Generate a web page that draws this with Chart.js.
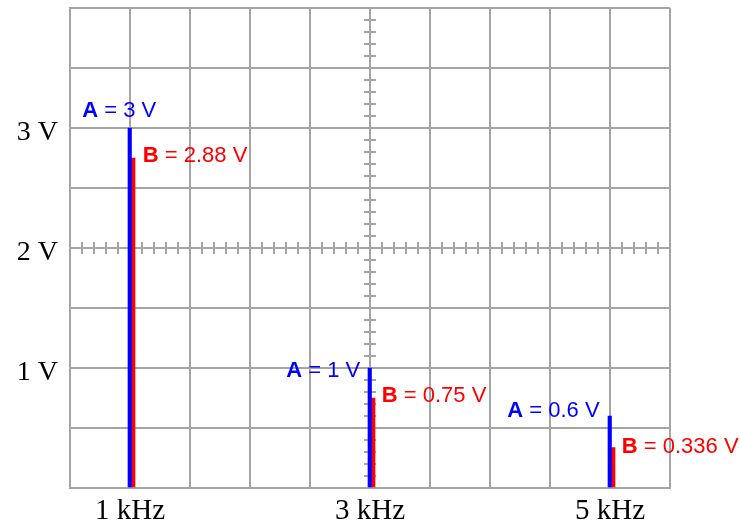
<!DOCTYPE html>
<html>
<head>
<meta charset="utf-8">
<script src="https://cdn.jsdelivr.net/npm/chart.js@4.4.0/dist/chart.umd.min.js"></script>
<style>
	html, body { margin: 0; padding: 0; background: #fff; }
	#wrap { width: 740px; height: 523px; }
</style>
</head>
<body>
<div id="wrap"><canvas id="spectrum"></canvas></div>
<script>
const freqs = [1, 3, 5],
	seriesA = [3, 1, 0.6],
	seriesB = [2.75, 0.75, 0.336],
	textA = ['3 V', '1 V', '0.6 V'],
	textB = ['2.88 V', '0.75 V', '0.336 V'],
	xTickValues = [1, 3, 5],
	xTickLabels = ['1 kHz', '3 kHz', '5 kHz'],
	yTickValues = [1, 2, 3],
	yTickLabels = ['1 V', '2 V', '3 V']

const GRID = 'rgb(165,165,165)',
	SERIF = '"Liberation Serif", "Times New Roman", serif',
	SANS = '"Liberation Sans", Arial, sans-serif'

// label placement, px from the top of each bar (left edge of text, baseline)
const offsetsA = [[-46, -11], [-82, 9], [-101, 1]],
	offsetsB = [[11, 4], [10, 4], [10, 5]]

const minorTicks = {
	id: 'minorTicks',
	beforeDatasetsDraw(chart) {
		const { ctx, scales: { x, y } } = chart,
			cx = x.getPixelForValue(3),
			cy = y.getPixelForValue(2)
		ctx.save()
		ctx.strokeStyle = GRID
		ctx.lineWidth = 2
		ctx.beginPath()
		for (let i = 1; i < 40; i++) {
			const py = y.getPixelForValue(i / 10)
			ctx.moveTo(cx - 6, py)
			ctx.lineTo(cx + 6, py)
		}
		for (let i = 6; i < 55; i++) {
			const px = x.getPixelForValue(i / 10)
			ctx.moveTo(px, cy - 6)
			ctx.lineTo(px, cy + 6)
		}
		ctx.stroke()
		ctx.restore()
	}
}

// grouped bars sit a little right of the frequency line in the original
const nudgeBars = {
	id: 'nudgeBars',
	beforeDatasetDraw(chart) {
		chart.ctx.save()
		chart.ctx.translate(1.5, 0)
	},
	afterDatasetDraw(chart) {
		chart.ctx.restore()
	}
}

const valueLabels = {
	id: 'valueLabels',
	afterDatasetsDraw(chart) {
		const { ctx } = chart
		ctx.save()
		ctx.textBaseline = 'alphabetic'
		ctx.textAlign = 'left'
		const sets = [
			{ name: 'A', texts: textA, offs: offsetsA, color: '#0000ff' },
			{ name: 'B', texts: textB, offs: offsetsB, color: '#ff0000' }
		]
		sets.forEach((s, di) => {
			const meta = chart.getDatasetMeta(di)
			meta.data.forEach((bar, i) => {
				const x0 = bar.x + s.offs[i][0],
					y0 = bar.y + s.offs[i][1]
				ctx.fillStyle = s.color
				ctx.font = `bold 22px ${SANS}`
				ctx.fillText(s.name, x0, y0)
				const w = ctx.measureText(s.name).width
				ctx.font = `22px ${SANS}`
				ctx.fillText(' = ' + s.texts[i], x0 + w, y0)
			})
		})
		ctx.restore()
	}
}

const toPoints = (vals) => freqs.map((f, i) => ({ x: f, y: vals[i] }))

new Chart(document.getElementById('spectrum'), {
	type: 'bar',
	data: {
		datasets: [
			{ label: 'A', data: toPoints(seriesA), backgroundColor: '#0000ff', barThickness: 3.5 },
			{ label: 'B', data: toPoints(seriesB), backgroundColor: '#ff0000', barThickness: 3.5 }
		]
	},
	options: {
		responsive: true,
		maintainAspectRatio: false,
		animation: false,
		layout: { padding: { top: 8, right: 70, left: 0, bottom: 0 } },
		plugins: { legend: { display: false }, tooltip: { enabled: false } },
		scales: {
			x: {
				type: 'linear',
				min: 0.5,
				max: 5.5,
				offset: false,
				grid: { color: GRID, lineWidth: 2, drawTicks: false, offset: false },
				border: { color: GRID, width: 2 },
				ticks: {
					stepSize: 0.5,
					autoSkip: false,
					maxRotation: 0,
					padding: 6,
					color: '#000',
					font: { family: SERIF, size: 29 },
					callback: (v) => {
						const k = xTickValues.indexOf(v)
						return k >= 0 ? xTickLabels[k] : ''
					}
				},
				afterFit: (s) => { s.height = 35; s.paddingLeft = 0; s.paddingRight = 0 }
			},
			y: {
				min: 0,
				max: 4,
				grid: { color: GRID, lineWidth: 2, drawTicks: false },
				border: { color: GRID, width: 2 },
				ticks: {
					stepSize: 0.5,
					autoSkip: false,
					padding: 12,
					color: '#000',
					font: { family: SERIF, size: 28, lineHeight: 0.3 },
					callback: (v) => {
						const k = yTickValues.indexOf(v)
						return k >= 0 ? ['', yTickLabels[k]] : ''
					}
				},
				afterFit: (s) => { s.width = 70; s.paddingTop = 0; s.paddingBottom = 0 }
			}
		}
	},
	plugins: [minorTicks, nudgeBars, valueLabels]
})
</script>
</body>
</html>
